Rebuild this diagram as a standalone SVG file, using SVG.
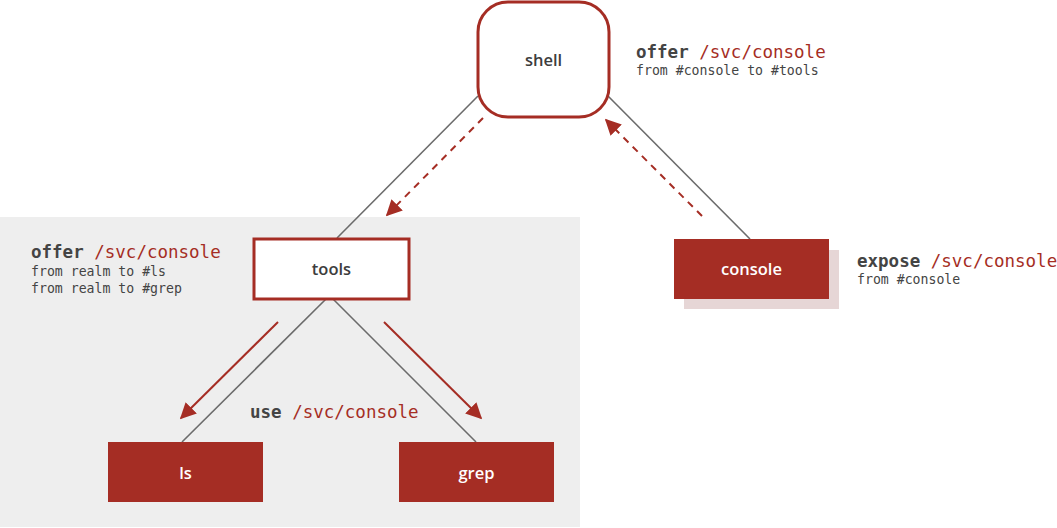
<svg xmlns="http://www.w3.org/2000/svg" width="1057" height="528" viewBox="0 0 1057 528">
<defs>
<style>
.edge{stroke:#6b6b6b;stroke-width:1.6;fill:none}
.flow{stroke:#a52d24;stroke-width:2;fill:none}
.dash{stroke-dasharray:7 6}
.node{font-family:"Open Sans","Liberation Sans",sans-serif;font-size:16.5px;font-weight:600;text-anchor:middle}
.mono{font-family:"DejaVu Sans Mono","Liberation Mono",monospace}
.big{font-size:17.5px}
.small{font-size:13.2px;fill:#444}
.kw{font-weight:bold;fill:#444}
.path{fill:#a52d24}
</style>
<marker id="ahb" viewBox="0 0 10 10" refX="9" refY="5" markerWidth="8" markerHeight="8" orient="auto">
<path d="M0,0 L10,5 L0,10 z" fill="#a52d24"/>
</marker>
</defs>
<rect width="1057" height="528" fill="#ffffff"/>
<rect x="0" y="217" width="580" height="310" fill="#eeeeee"/>
<g id="connectors">
<line class="edge" x1="478" y1="96" x2="337" y2="238"/>
<line class="edge" x1="608" y1="96" x2="750" y2="239"/>
<line class="edge" x1="326" y1="299" x2="182" y2="442"/>
<line class="edge" x1="333" y1="299" x2="476" y2="442"/>
<line class="flow dash" x1="483" y1="118" x2="387" y2="215" marker-end="url(#ahb)"/>
<line class="flow dash" x1="702" y1="216" x2="606" y2="120" marker-end="url(#ahb)"/>
<line class="flow" x1="278" y1="322" x2="181" y2="418" marker-end="url(#ahb)"/>
<line class="flow" x1="384" y1="322" x2="481" y2="418" marker-end="url(#ahb)"/>
</g>
<g id="shell">
<rect x="478" y="2" width="131" height="115" rx="30" ry="30" fill="#ffffff" stroke="#a52d24" stroke-width="3"/>
<text class="node" x="543.5" y="66" fill="#3d3d3d">shell</text>
</g>
<g id="tools">
<rect x="254" y="239" width="155" height="60" fill="#ffffff" stroke="#a52d24" stroke-width="3"/>
<text class="node" x="331.5" y="275" fill="#3d3d3d">tools</text>
</g>
<g id="console">
<rect x="684" y="250" width="155" height="59" fill="#e6d6d6"/>
<rect x="674" y="239" width="155" height="60" fill="#a52d24"/>
<text class="node" x="751.5" y="275" fill="#ffffff">console</text>
</g>
<g id="ls">
<rect x="108" y="442" width="155" height="60" fill="#a52d24"/>
<text class="node" x="185.5" y="479" fill="#ffffff">ls</text>
</g>
<g id="grep">
<rect x="399" y="442" width="155" height="60" fill="#a52d24"/>
<text class="node" x="476.5" y="479" fill="#ffffff">grep</text>
</g>
<g id="labels">
<text class="mono big" x="636" y="58"><tspan class="kw">offer</tspan> <tspan class="path">/svc/console</tspan></text>
<text class="mono small" x="636" y="75">from #console to #tools</text>
<text class="mono big" x="31" y="258"><tspan class="kw">offer</tspan> <tspan class="path">/svc/console</tspan></text>
<text class="mono small" x="31" y="276">from realm to #ls</text>
<text class="mono small" x="31" y="293">from realm to #grep</text>
<text class="mono big" x="857" y="267"><tspan class="kw">expose</tspan> <tspan class="path">/svc/console</tspan></text>
<text class="mono small" x="857" y="284">from #console</text>
<text class="mono big" x="250" y="418"><tspan class="kw">use</tspan> <tspan class="path">/svc/console</tspan></text>
</g>
</svg>
